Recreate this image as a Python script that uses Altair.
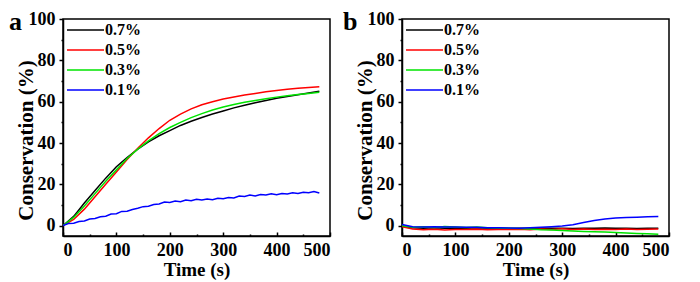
import altair as alt
import pandas as pd

series = ["0.7%", "0.5%", "0.3%", "0.1%"]
colors = ["#000000", "#ff0000", "#00e400", "#0000ff"]

t20 = [0, 20, 40, 60, 80, 100, 120, 140, 160, 180, 200, 220, 240, 260, 280, 300,
       320, 340, 360, 380, 400, 420, 440, 460, 480]
t10 = list(range(0, 481, 10))

a_07 = [0, 4.5, 11, 17, 23, 28.5, 33, 37, 40.5, 43.5, 46, 48.5, 50.5, 52.3, 54, 55.5,
        57, 58.3, 59.5, 60.6, 61.6, 62.5, 63.4, 64.2, 65]
a_05 = [0, 3, 8, 14, 20, 26, 32, 37.5, 42.5, 47, 51, 54, 56.5, 58.5, 60, 61.3,
        62.3, 63.2, 64, 64.8, 65.4, 66, 66.5, 66.9, 67.2]
a_03 = [0, 4, 9.5, 15.5, 21.5, 27, 32.5, 37, 41, 44.5, 47.5, 50, 52.3, 54.2, 56, 57.4,
        58.6, 59.7, 60.6, 61.4, 62.2, 62.9, 63.5, 64, 64.5]
a_01 = [0, 1, 1.2, 2, 2.3, 3.2, 3.5, 4.3, 4.6, 5.6, 5.8, 6.9, 7, 7.8, 8.4, 9.2, 9.4,
        10.2, 10.5, 11.4, 11.2, 11.9, 11.6, 12.4, 12.1, 12.8, 12.4, 12.9, 12.6, 13.3,
        13, 13.6, 13.4, 14.3, 14.1, 14.8, 14.4, 15.1, 14.9, 15.4, 15, 15.6, 15.3, 15.9,
        15.6, 16.2, 15.9, 16.5, 15.8]

b_07 = [-0.3, -1.0, -1.2, -1.0, -1.3, -1.1, -1.2, -1.0, -1.3, -1.2, -1.4, -1.2, -1.3,
        -1.1, -1.3, -1.2, -1.4, -1.2, -1.3, -1.1, -1.3, -1.2, -1.4, -1.2, -1.3]
b_05 = [-0.5, -1.6, -2.0, -1.7, -2.1, -1.8, -1.9, -1.7, -2.0, -1.8, -1.9, -1.7, -2.0,
        -1.6, -1.8, -1.5, -1.8, -1.6, -1.9, -1.7, -1.9, -1.6, -1.8, -1.7, -1.6]
b_03 = [0, -0.8, -0.5, -0.9, -0.4, -0.7, -0.9, -0.6, -1.0, -1.1, -1.2, -1.4, -1.6,
        -2.0, -2.1, -2.3, -2.6, -2.8, -3.0, -3.1, -3.3, -3.6, -3.8, -3.9, -4.2]
b_01 = [0.6, -0.5, -0.6, -0.5, -0.7, -0.6, -0.8, -0.8, -1.0, -1.0, -1.1, -1.2, -1.0,
        -0.8, -0.5, -0.2, 0.4, 1.5, 2.5, 3.2, 3.7, 4.0, 4.1, 4.3, 4.4]

panel_labels = ["a", "b"]


def frame(times, vals, name, order):
    return pd.DataFrame({"t": times, "v": vals, "s": name, "o": order})


df_a = pd.concat([frame(t20, a_07, series[0], 0), frame(t20, a_05, series[1], 1),
                  frame(t20, a_03, series[2], 2), frame(t10, a_01, series[3], 3)])
df_b = pd.concat([frame(t20, b_07, series[0], 0), frame(t20, b_05, series[1], 1),
                  frame(t20, b_03, series[2], 2), frame(t20, b_01, series[3], 3)])

FONT = "Liberation Serif"
W, H = 267, 217


def panel(df, label, label_dx):
    xax = alt.Axis(values=list(range(0, 501, 50)),
                   labelExpr="datum.value % 100 === 0 ? datum.label : ''",
                   tickSize={"condition": [
                       {"test": "datum.value % 100 === 0", "value": -4},
                       {"test": "datum.value % 100 !== 0", "value": -2}], "value": 0},
                   title="Time (s)", titleFontSize=19, labelOverlap=False,
                   labelPadding=9, titlePadding=-1)
    yax = alt.Axis(values=list(range(0, 101, 10)),
                   labelExpr="datum.value % 20 === 0 ? datum.label : ''",
                   tickSize={"condition": {"test": "datum.value % 20 !== 0", "value": 2}, "value": 4},
                   title="Conservation (%)", titleFontSize=21, labelOverlap=False,
                   labelPadding=4, titleAngle=270, titleAlign="center",
                   titleBaseline="alphabetic", titleX=-31, titleY=121)
    lines = alt.Chart(df).mark_line(strokeWidth=1.5, clip=True).encode(
        x=alt.X("t:Q", scale=alt.Scale(domain=[0, 500], nice=False), axis=xax),
        y=alt.Y("v:Q", scale=alt.Scale(domain=[-5, 100], nice=False), axis=yax),
        color=alt.Color("s:N", scale=alt.Scale(domain=series, range=colors),
                        legend=alt.Legend(title=None, orient="top-left", offset=3,
                                          symbolType="stroke", symbolSize=1369,
                                          symbolStrokeWidth=1.6, clipHeight=16,
                                          rowPadding=4, labelOffset=0,
                                          labelFont=FONT, labelFontSize=16,
                                          labelFontWeight="bold", labelColor="black")),
        order="o:Q",
        detail="s:N",
    )
    txt = alt.Chart(pd.DataFrame({"lab": [label]})).mark_text(
        font=FONT, fontSize=26, fontWeight="bold", align="left", baseline="alphabetic",
        color="black").encode(x=alt.value(label_dx), y=alt.value(11), text="lab:N")
    return alt.layer(lines, txt).properties(width=W, height=H)


chart = alt.hconcat(panel(df_a, panel_labels[0], -54), panel(df_b, panel_labels[1], -59),
                    spacing=10).resolve_scale(color="independent").properties(
    padding={"left": 0, "top": 0, "right": 0, "bottom": 0}
).configure_view(stroke="black", strokeWidth=1.5).configure_axis(
    grid=False, domainColor="black", domainWidth=1.5, tickColor="black", tickWidth=1.5,
    labelFont=FONT, labelFontSize=18, labelFontWeight="bold", labelColor="black",
    titleFont=FONT, titleFontWeight="bold", titleColor="black")

chart.save("out.html", embed_options={"renderer": "svg", "actions": False})
